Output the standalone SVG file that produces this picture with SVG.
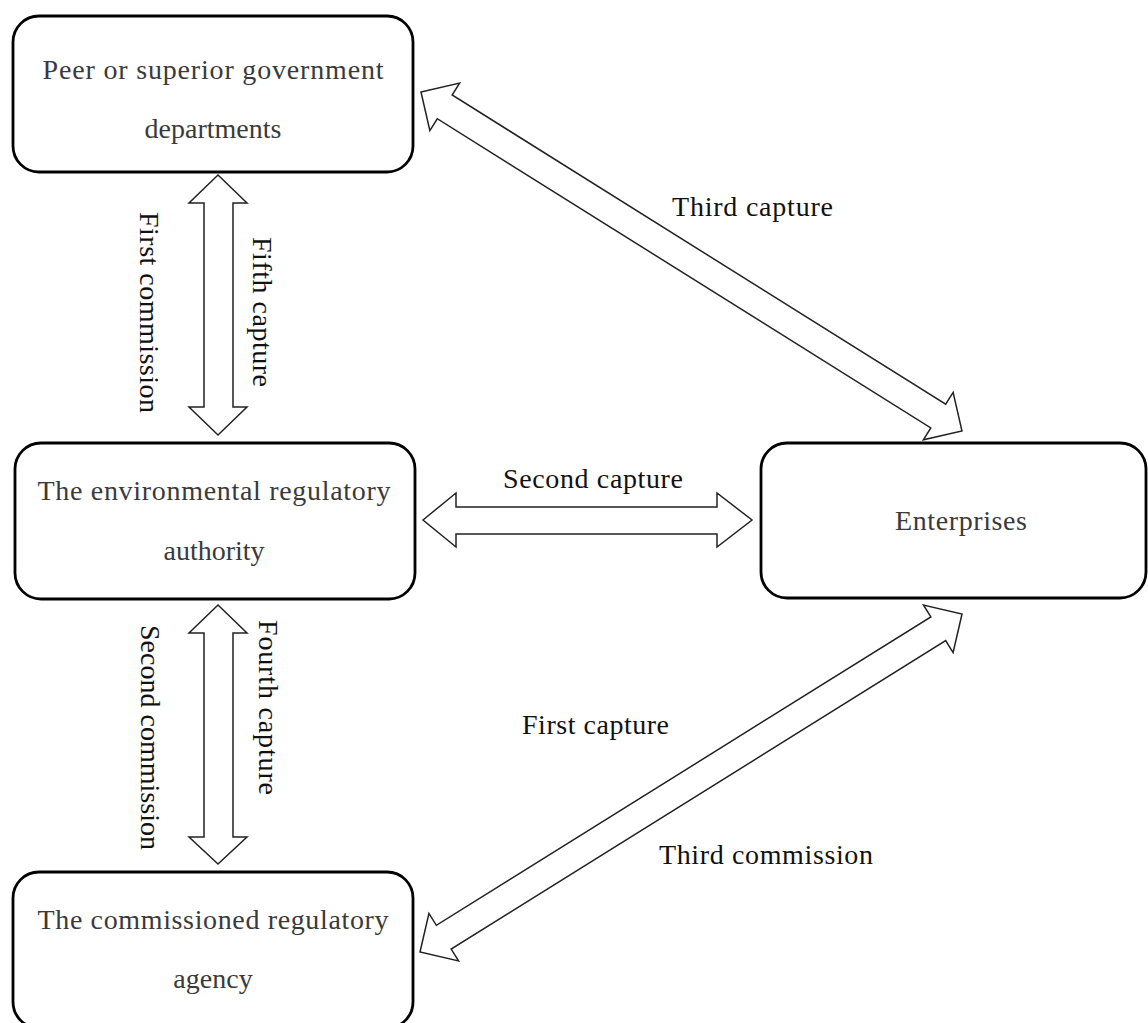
<svg xmlns="http://www.w3.org/2000/svg" width="1148" height="1023" viewBox="0 0 1148 1023">
<style>
.box{fill:#fff;stroke:#000;stroke-width:2.8}
.arr{fill:#fff;stroke:#222;stroke-width:1.5;stroke-linejoin:miter}
.nt{font-family:"Liberation Serif","Times New Roman",serif;font-size:28px;fill:#3a3a3a;text-anchor:middle}
.lb{font-family:"Liberation Serif","Times New Roman",serif;font-size:28px;fill:#111;text-anchor:middle}
</style>
<rect width="1148" height="1023" fill="#fff"/>
<g id="connectors">
  <polygon class="arr" points="218,175 247,203 233,203 233,407 247,407 218,435 189,407 204,407 204,203 189,203"/>
  <polygon class="arr" points="218,605 247,633 233,633 233,837 247,837 218,864 189,837 204,837 204,633 189,633"/>
  <polygon class="arr" points="423,520 456,493 456,507 717,507 717,493 752,520 717,547 717,534 456,534 456,547"/>
  <polygon class="arr" transform="translate(421,92) rotate(32.07)" points="0,0 28,-28 28,-14 610.4,-14 610.4,-28 638.4,0 610.4,28 610.4,14 28,14 28,28"/>
  <polygon class="arr" transform="translate(420,952) rotate(-31.95)" points="0,0 28,-28 28,-14 610.8,-14 610.8,-28 638.8,0 610.8,28 610.8,14 28,14 28,28"/>
  <text class="lb" transform="translate(140,312.5) rotate(90)" textLength="201" lengthAdjust="spacing">First commission</text>
  <text class="lb" transform="translate(253,312) rotate(90)" textLength="150" lengthAdjust="spacing">Fifth capture</text>
  <text class="lb" transform="translate(141,737.5) rotate(90)" textLength="225" lengthAdjust="spacing">Second commission</text>
  <text class="lb" transform="translate(259,707.5) rotate(90)" textLength="175" lengthAdjust="spacing">Fourth capture</text>
  <text class="lb" x="593" y="488" textLength="180" lengthAdjust="spacing">Second capture</text>
  <text class="lb" x="752.5" y="216" textLength="161" lengthAdjust="spacing">Third capture</text>
  <text class="lb" x="595.5" y="734" textLength="147" lengthAdjust="spacing">First capture</text>
  <text class="lb" x="766" y="864" textLength="214" lengthAdjust="spacing">Third commission</text>
</g>
<g id="peer">
  <rect class="box" x="13" y="16" width="400" height="156" rx="26"/>
  <text class="nt" x="213" y="79" textLength="341" lengthAdjust="spacing">Peer or superior government</text>
  <text class="nt" x="213" y="138">departments</text>
</g>
<g id="authority">
  <rect class="box" x="15" y="443" width="400" height="156" rx="26"/>
  <text class="nt" x="214" y="500" textLength="353" lengthAdjust="spacing">The environmental regulatory</text>
  <text class="nt" x="214" y="560">authority</text>
</g>
<g id="agency">
  <rect class="box" x="13" y="872" width="400" height="156" rx="26"/>
  <text class="nt" x="213" y="929" textLength="351" lengthAdjust="spacing">The commissioned regulatory</text>
  <text class="nt" x="213" y="988">agency</text>
</g>
<g id="enterprises">
  <rect class="box" x="761" y="443" width="385" height="155" rx="26"/>
  <text class="nt" x="961" y="530" textLength="132" lengthAdjust="spacing">Enterprises</text>
</g>
</svg>
